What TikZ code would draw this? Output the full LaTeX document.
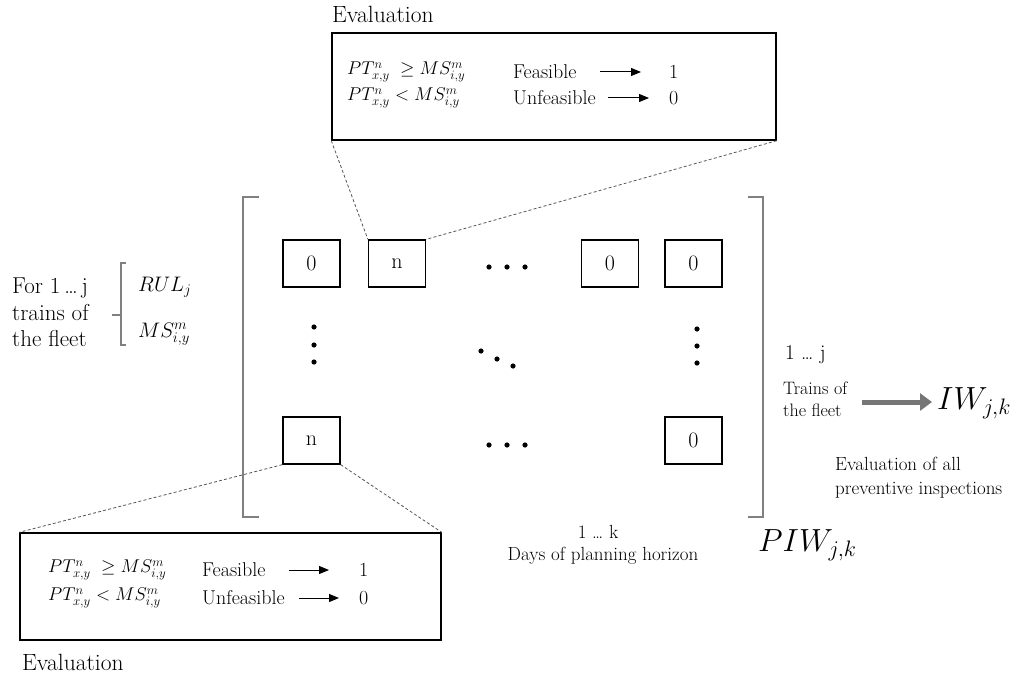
\RequirePackage{fix-cm}
\documentclass[tikz,border=0pt]{standalone}
\usetikzlibrary{arrows.meta}
\definecolor{brk}{HTML}{808080}
\definecolor{dsh}{HTML}{555555}
\definecolor{garrow}{HTML}{767676}
\tikzset{
  evalbox/.style={draw=black, line width=1.4pt, inner sep=0pt, minimum width=#1},
  cellbox/.style={draw=black, line width=1.3pt, inner sep=0pt, minimum width=57pt, minimum height=47pt, font=\fontsize{22}{26}\selectfont},
  txt/.style={inner sep=0pt, font=\fontsize{19}{24}\selectfont},
  lefttxt/.style={inner sep=0pt, anchor=west, font=\fontsize{23}{26}\selectfont},
  evtxt/.style={inner sep=0pt, anchor=west, font=\fontsize{23.5}{26}\selectfont},
  boxmath/.style={inner sep=0pt, anchor=west, font=\fontsize{18.5}{22}\selectfont},
  boxtxt/.style={inner sep=0pt, anchor=west, font=\fontsize{20}{22}\selectfont},
  smalltxt/.style={inner sep=0pt, font=\fontsize{18}{22}\selectfont, align=left},
  bigmath/.style={inner sep=0pt, anchor=west, font=\fontsize{32}{36}\selectfont},
  midmath/.style={inner sep=0pt, anchor=west, font=\fontsize{21}{25}\selectfont},
  bracketline/.style={draw=brk, line width=1.1pt},
  zoomline/.style={draw=dsh, line width=0.8pt, dash pattern=on 3pt off 2.2pt},
  smallarrow/.style={draw=black, line width=1pt, -{Triangle[length=10pt,width=8pt]}},
  dotfill/.style={fill=black},
}
\begin{document}
\begin{tikzpicture}[x=1pt,y=-1pt]
\useasboundingbox (0,0) rectangle (1027,679);

% ---------- top evaluation box ----------
\node[evtxt] (evtop) at (332,14) {Evaluation};
\node[evalbox=444pt, minimum height=107pt] (topbox) at (554,86.5) {};
\node[boxmath] (t1m) at (347,72) {$PT^{n}_{x,y}\;\geq MS^{m}_{i,y}$};
\node[boxmath] (t2m) at (347,98) {$PT^{n}_{x,y} < MS^{m}_{i,y}$};
\node[boxtxt] (t1f) at (513,72) {Feasible};
\node[boxtxt] (t2f) at (513,98) {Unfeasible};
\coordinate (t1a) at (600,72);
\coordinate (t1b) at (641,72);
\coordinate (t2a) at (608,98);
\coordinate (t2b) at (649,98);
\draw[smallarrow] (t1a) -- (t1b);
\draw[smallarrow] (t2a) -- (t2b);
\node[boxtxt] (t1v) at (669,72) {1};
\node[boxtxt] (t2v) at (669,98) {0};

% ---------- matrix ----------
\draw[bracketline] (259,197) -- (243,197) -- (243,517) -- (259,517);
\draw[bracketline] (748,197) -- (763,197) -- (763,517) -- (748,517);

\node[cellbox] (c11) at (311.5,263.5) {0};
\node[cellbox] (c12) at (397,263.5) {n};
\node[cellbox] (c13) at (610,263.5) {0};
\node[cellbox] (c14) at (693.5,263.5) {0};
\node[cellbox] (c21) at (311.5,440.5) {n};
\node[cellbox] (c24) at (693.5,440.5) {0};

% dots
\foreach \x in {489,507,525} \fill[dotfill] (\x,267) circle (2.6pt);
\foreach \x in {489,507,525} \fill[dotfill] (\x,445) circle (2.6pt);
\foreach \y in {327,345,362} \fill[dotfill] (314,\y) circle (2.6pt);
\foreach \y in {329,346,363} \fill[dotfill] (697,\y) circle (2.6pt);
\fill[dotfill] (481,351) circle (2.6pt);
\fill[dotfill] (497,359) circle (2.6pt);
\fill[dotfill] (513,366) circle (2.6pt);

% zoom lines
\draw[zoomline] (topbox.south west) -- (c12.north west);
\draw[zoomline] (topbox.south east) -- (c12.north east);

% ---------- bottom evaluation box ----------
\node[evalbox=421pt, minimum height=107pt] (botbox) at (230.5,586.5) {};
\draw[zoomline] (c21.south west) -- (botbox.north west);
\draw[zoomline] (c21.south east) -- (botbox.north east);
\node[boxmath] (b1m) at (48,570) {$PT^{n}_{x,y}\;\geq MS^{m}_{i,y}$};
\node[boxmath] (b2m) at (48,598) {$PT^{n}_{x,y} < MS^{m}_{i,y}$};
\node[boxtxt] (b1f) at (202,570) {Feasible};
\node[boxtxt] (b2f) at (202,598) {Unfeasible};
\coordinate (b1a) at (289,570);
\coordinate (b1b) at (329,570);
\coordinate (b2a) at (299,598);
\coordinate (b2b) at (339,598);
\draw[smallarrow] (b1a) -- (b1b);
\draw[smallarrow] (b2a) -- (b2b);
\node[boxtxt] (b1v) at (359,570) {1};
\node[boxtxt] (b2v) at (359,598) {0};
\node[evtxt] (evbot) at (22,662) {Evaluation};

% ---------- left side ----------
\node[lefttxt] (l1) at (12,288) {For 1\,\ldots\,j};
\node[lefttxt] (l2) at (12,313) {trains of};
\node[lefttxt] (l3) at (12,339) {the fleet};
\draw[bracketline] (126,263) -- (121,263) -- (121,345) -- (126,345);
\draw[bracketline] (121,315) -- (112,315);
\node[midmath] (rul) at (138,287) {$RUL_{j}$};
\node[midmath] (msl) at (138,334) {$MS^{m}_{i,y}$};

% ---------- right side ----------
\node[txt, anchor=west, font=\fontsize{21}{24}\selectfont] (r1) at (785,355) {1 \ldots\ j};
\node[smalltxt, anchor=west] (trains) at (783,399) {Trains of\\the fleet};
\node[bigmath] (iw) at (937,403) {$IW_{j,k}$};
\coordinate (ga) at (862,402);
\coordinate (gb) at (932,402);
\draw[draw=garrow, line width=5pt, -{Triangle[length=12pt,width=17pt]}] (ga) -- (gb);
\node[txt, anchor=west, align=left] (evall) at (835,478) {Evaluation of all\\preventive inspections};
\node[bigmath] (piw) at (758,545) {$PIW_{j,k}$};

% ---------- bottom labels ----------
\node[txt] (k1) at (598,532) {1 \ldots\ k};
\node[txt] (days) at (603,556) {Days of planning horizon};
\end{tikzpicture}
\end{document}
